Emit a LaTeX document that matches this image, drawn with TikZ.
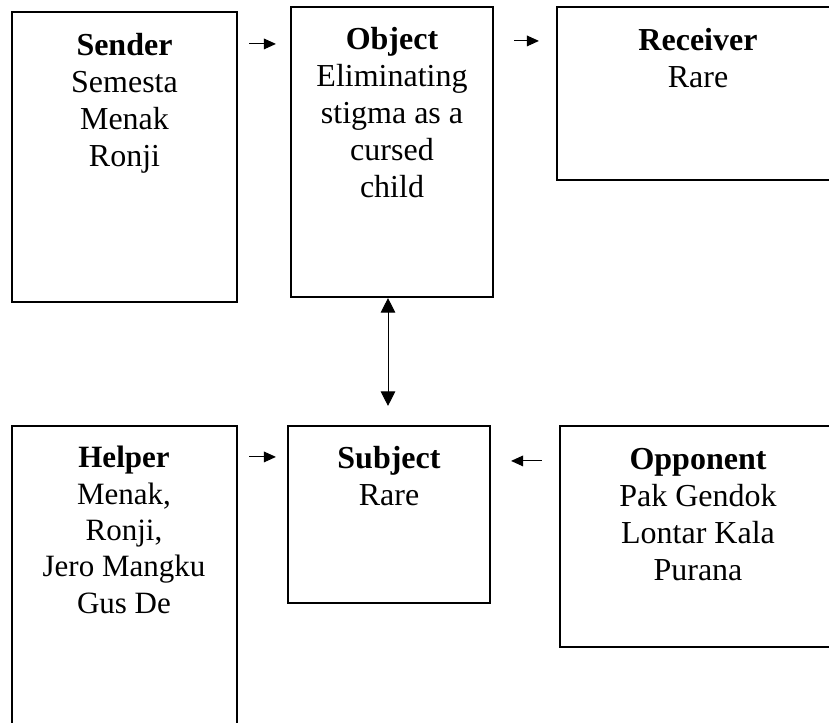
\documentclass[tikz,border=0pt]{standalone}
\usepackage{fontspec}
\setmainfont{Liberation Serif}
\usetikzlibrary{arrows.meta,fit,calc}
\begin{document}
\begin{tikzpicture}[x=0.75pt,y=-0.75pt,
  box/.style={draw,line width=1.6pt,inner sep=0pt},
  txt/.style={align=center,inner sep=0pt,anchor=base,font=\fontsize{24}{27.75}\selectfont},
  txth/.style={align=center,inner sep=0pt,anchor=base,font=\fontsize{23.25}{27.2}\selectfont},
  arr/.style={line width=0.75pt,-{Triangle[length=9pt,width=8pt]}},
  darr/.style={line width=0.75pt,{Triangle[length=11pt,width=11pt]}-{Triangle[length=11pt,width=11pt]}}]
\useasboundingbox (0,0) rectangle (829,722);
\clip (0,0) rectangle (829,722);
\node[box,fit={(12,12) (237,302)}] (sender) {};
\node[box,fit={(291,7) (493,297)}] (object) {};
\node[box,fit={(557,7) (839,180)}] (receiver) {};
\node[box,fit={(12,426) (237,760)}] (helper) {};
\node[box,fit={(288,426) (490,603)}] (subject) {};
\node[box,fit={(560,426) (836,647)}] (opponent) {};
\node[txt] (sendert) at (124.5,166) {\textbf{Sender}\\Semesta\\Menak\\Ronji};
\node[txt] (objectt) at (392,197) {\textbf{Object}\\Eliminating\\stigma as a\\cursed\\child};
\node[txt] (receivert) at (698,87) {\textbf{Receiver}\\Rare};
\node[txth] (helpert) at (124,613) {\textbf{Helper}\\Menak,\\Ronji,\\Jero Mangku\\Gus De};
\node[txt] (subjectt) at (389,505) {\textbf{Subject}\\Rare};
\node[txt] (opponentt) at (698,580) {\textbf{Opponent}\\Pak Gendok\\Lontar Kala\\Purana};
\draw[arr] ($(sender.north east)+(11,33)$) -- ($(object.north west)+(-14,38)$);
\draw[arr] ($(object.north east)+(20,35)$) -- ($(receiver.north west)+(-17,35)$);
\draw[darr] (object.south -| 388,0) -- ($(subject.north -| 388,0)+(0,-19)$);
\draw[arr] ($(helper.north east)+(11,32)$) -- ($(subject.north west)+(-11,32)$);
\draw[arr] ($(opponent.north west)+(-17,36)$) -- ($(subject.north east)+(20,36)$);
\end{tikzpicture}
\end{document}
